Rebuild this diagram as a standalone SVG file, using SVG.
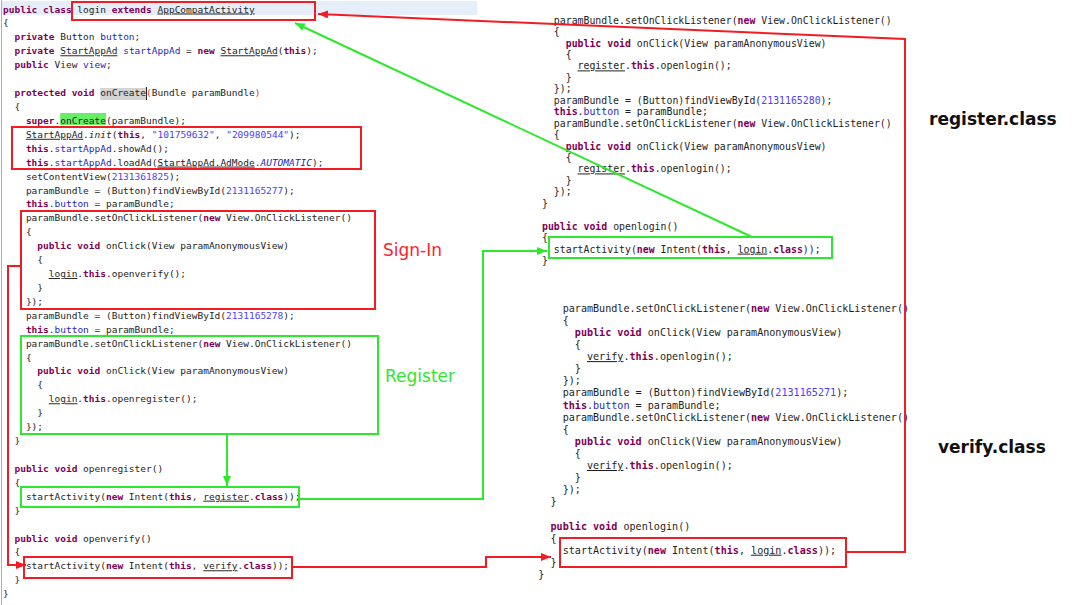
<svg xmlns="http://www.w3.org/2000/svg" width="1080" height="605" viewBox="0 0 1080 605">
<style>
.code{font-family:"DejaVu Sans Mono","Liberation Mono",monospace;fill:#1e1e1e}
.l{font-size:9.5px}
.r1{font-size:9.85px}
.r2{font-size:10.1px}
.k{fill:#7f0055;font-weight:bold}
.f{fill:#1f1fc0}
.n{fill:#4b3cff}
.u{text-decoration:underline}
.i{font-style:italic}
.p{fill:#e03030}
.red{fill:none;stroke:#f21d24;stroke-width:2}
.grn{fill:none;stroke:#2ee82e;stroke-width:2}
.lblr{font-family:"DejaVu Sans",sans-serif;font-size:17px;fill:#ff2030}
.lblg{font-family:"DejaVu Sans",sans-serif;font-size:17px;fill:#2ee82e}
.title{font-family:"DejaVu Sans",sans-serif;font-size:17px;font-weight:bold;fill:#111}
</style>
<defs>
<marker id="ar" markerUnits="userSpaceOnUse" markerWidth="10" markerHeight="8" refX="10" refY="4" orient="auto"><path d="M0,0 L10,4 L0,8 z" fill="#f21d24"/></marker>
<marker id="ag" markerUnits="userSpaceOnUse" markerWidth="10" markerHeight="8" refX="10" refY="4" orient="auto"><path d="M0,0 L10,4 L0,8 z" fill="#2ee82e"/></marker>
</defs>
<rect x="0" y="0" width="1080" height="605" fill="#ffffff"/>

<g id="login-code">
<line x1="1.5" y1="0" x2="1.5" y2="605" stroke="#b0b0b0" stroke-width="1"/>
<rect x="2" y="1" width="475" height="14" fill="#e6eefa"/>
<rect x="100.2" y="88" width="45.8" height="12" fill="#d4d4d4"/>
<line x1="146.5" y1="87" x2="146.5" y2="100" stroke="#222" stroke-width="1"/>
<rect x="60.2" y="113" width="45.8" height="12" fill="#66ee66"/>
<g class="code l">
<text x="3" y="12.5"><tspan class="k">public class</tspan> login <tspan class="k">extends</tspan> <tspan class="u">AppCompatActivity</tspan></text>
<text x="3" y="26.4">{</text>
<text x="14.44" y="40.3"><tspan class="k">private</tspan> Button <tspan class="f">button</tspan>;</text>
<text x="14.44" y="54.3"><tspan class="k">private</tspan> <tspan class="u">StartAppAd</tspan> <tspan class="f">startAppAd</tspan> = <tspan class="k">new</tspan> <tspan class="u">StartAppAd</tspan>(<tspan class="k">this</tspan>);</text>
<text x="14.44" y="68.2"><tspan class="k">public</tspan> View <tspan class="f">view</tspan>;</text>
<text x="14.44" y="96"><tspan class="k">protected void</tspan> onCreate<tspan class="p">(</tspan>Bundle paramBundle<tspan class="p">)</tspan></text>
<text x="14.44" y="109.9">{</text>
<text x="25.88" y="123.9"><tspan class="k">super</tspan>.onCreate(paramBundle);</text>
<text x="25.88" y="137.8"><tspan class="u">StartAppAd</tspan>.<tspan class="i">init</tspan>(<tspan class="k">this</tspan>, <tspan class="n">"101759632"</tspan>, <tspan class="n">"209980544"</tspan>);</text>
<text x="25.88" y="151.7"><tspan class="k">this</tspan>.<tspan class="f">startAppAd</tspan>.showAd();</text>
<text x="25.88" y="165.6"><tspan class="k">this</tspan>.<tspan class="f">startAppAd</tspan>.loadAd(<tspan class="u">StartAppAd.AdMode</tspan>.<tspan class="f i">AUTOMATIC</tspan>);</text>
<text x="25.88" y="179.5">setContentView(<tspan class="n">2131361825</tspan>);</text>
<text x="25.88" y="193.5">paramBundle = (Button)findViewById(<tspan class="n">2131165277</tspan>);</text>
<text x="25.88" y="207.4"><tspan class="k">this</tspan>.<tspan class="f">button</tspan> = paramBundle;</text>
<text x="25.88" y="221.3">paramBundle.setOnClickListener(<tspan class="k">new</tspan> View.OnClickListener()</text>
<text x="25.88" y="235.2">{</text>
<text x="37.32" y="249.1"><tspan class="k">public void</tspan> onClick(View paramAnonymousView)</text>
<text x="37.32" y="263.1">{</text>
<text x="48.76" y="277"><tspan class="u">login</tspan>.<tspan class="k">this</tspan>.openverify();</text>
<text x="37.32" y="290.9">}</text>
<text x="25.88" y="304.8">});</text>
<text x="25.88" y="318.7">paramBundle = (Button)findViewById(<tspan class="n">2131165278</tspan>);</text>
<text x="25.88" y="332.7"><tspan class="k">this</tspan>.<tspan class="f">button</tspan> = paramBundle;</text>
<text x="25.88" y="346.6">paramBundle.setOnClickListener(<tspan class="k">new</tspan> View.OnClickListener()</text>
<text x="25.88" y="360.5">{</text>
<text x="37.32" y="374.4"><tspan class="k">public void</tspan> onClick(View paramAnonymousView)</text>
<text x="37.32" y="388.3">{</text>
<text x="48.76" y="402.3"><tspan class="u">login</tspan>.<tspan class="k">this</tspan>.openregister();</text>
<text x="37.32" y="416.2">}</text>
<text x="25.88" y="430.1">});</text>
<text x="14.44" y="444">}</text>
<text x="14.44" y="471.9"><tspan class="k">public void</tspan> openregister()</text>
<text x="14.44" y="485.8">{</text>
<text x="25.88" y="499.7">startActivity(<tspan class="k">new</tspan> Intent(<tspan class="k">this</tspan>, <tspan class="u">register</tspan>.<tspan class="k">class</tspan>));</text>
<text x="14.44" y="513.6">}</text>
<text x="14.44" y="541.5"><tspan class="k">public void</tspan> openverify()</text>
<text x="14.44" y="555.4">{</text>
<text x="25.88" y="569.3">startActivity(<tspan class="k">new</tspan> Intent(<tspan class="k">this</tspan>, <tspan class="u">verify</tspan>.<tspan class="k">class</tspan>));</text>
<text x="14.44" y="583.2">}</text>
<text x="3" y="597.1">}</text>
</g>
</g>

<g id="register-code" class="code r1">
<text x="553.86" y="23.6">paramBundle.setOnClickListener(<tspan class="k">new</tspan> View.OnClickListener()</text>
<text x="553.86" y="35.05">{</text>
<text x="565.72" y="46.5"><tspan class="k">public void</tspan> onClick(View paramAnonymousView)</text>
<text x="565.72" y="57.95">{</text>
<text x="577.58" y="69.4"><tspan class="u">register</tspan>.<tspan class="k">this</tspan>.openlogin();</text>
<text x="565.72" y="80.85">}</text>
<text x="553.86" y="92.3">});</text>
<text x="553.86" y="103.75">paramBundle = (Button)findViewById(<tspan class="n">2131165280</tspan>);</text>
<text x="553.86" y="115.2"><tspan class="k">this</tspan>.<tspan class="f">button</tspan> = paramBundle;</text>
<text x="553.86" y="126.65">paramBundle.setOnClickListener(<tspan class="k">new</tspan> View.OnClickListener()</text>
<text x="553.86" y="138.1">{</text>
<text x="565.72" y="149.55"><tspan class="k">public void</tspan> onClick(View paramAnonymousView)</text>
<text x="565.72" y="161">{</text>
<text x="577.58" y="172.45"><tspan class="u">register</tspan>.<tspan class="k">this</tspan>.openlogin();</text>
<text x="565.72" y="183.9">}</text>
<text x="553.86" y="195.35">});</text>
<text x="542" y="206.8">}</text>
<text x="542" y="229.7"><tspan class="k">public void</tspan> openlogin()</text>
<text x="542" y="241.15">{</text>
<text x="553.86" y="252.6">startActivity(<tspan class="k">new</tspan> Intent(<tspan class="k">this</tspan>, <tspan class="u">login</tspan>.<tspan class="k">class</tspan>));</text>
<text x="542" y="264.05">}</text>
</g>

<g id="verify-code" class="code r2">
<text x="562.66" y="311.7">paramBundle.setOnClickListener(<tspan class="k">new</tspan> View.OnClickListener()</text>
<text x="562.66" y="323.8">{</text>
<text x="574.82" y="335.9"><tspan class="k">public void</tspan> onClick(View paramAnonymousView)</text>
<text x="574.82" y="348">{</text>
<text x="586.98" y="360.1"><tspan class="u">verify</tspan>.<tspan class="k">this</tspan>.openlogin();</text>
<text x="574.82" y="372.2">}</text>
<text x="562.66" y="384.3">});</text>
<text x="562.66" y="396.4">paramBundle = (Button)findViewById(<tspan class="n">2131165271</tspan>);</text>
<text x="562.66" y="408.5"><tspan class="k">this</tspan>.<tspan class="f">button</tspan> = paramBundle;</text>
<text x="562.66" y="420.6">paramBundle.setOnClickListener(<tspan class="k">new</tspan> View.OnClickListener()</text>
<text x="562.66" y="432.7">{</text>
<text x="574.82" y="444.8"><tspan class="k">public void</tspan> onClick(View paramAnonymousView)</text>
<text x="574.82" y="456.9">{</text>
<text x="586.98" y="469"><tspan class="u">verify</tspan>.<tspan class="k">this</tspan>.openlogin();</text>
<text x="574.82" y="481.1">}</text>
<text x="562.66" y="493.2">});</text>
<text x="550.5" y="505.3">}</text>
<text x="550.5" y="529.5"><tspan class="k">public void</tspan> openlogin()</text>
<text x="550.5" y="541.6">{</text>
<text x="562.66" y="553.7">startActivity(<tspan class="k">new</tspan> Intent(<tspan class="k">this</tspan>, <tspan class="u">login</tspan>.<tspan class="k">class</tspan>));</text>
<text x="550.5" y="565.8">}</text>
<text x="538.34" y="577.9">}</text>
</g>

<g id="box-login-class"><rect class="red" x="72" y="2" width="243" height="18"/></g>
<g id="box-startappad"><rect class="red" x="12" y="127" width="349" height="42"/></g>
<g id="box-signin"><rect class="red" x="21" y="211" width="354" height="98"/><text class="lblr" x="383" y="256">Sign-In</text></g>
<g id="box-register"><rect class="grn" x="21" y="336" width="357" height="98"/><text class="lblg" x="385" y="382">Register</text></g>
<g id="box-openregister"><rect class="grn" x="21" y="487" width="278" height="20"/></g>
<g id="box-openverify"><rect class="red" x="24" y="557" width="268" height="21"/></g>
<g id="box-register-openlogin"><rect class="grn" x="549" y="237" width="283" height="21"/></g>
<g id="box-verify-openlogin"><rect class="red" x="560" y="538" width="286" height="29"/></g>
<g id="label-register-class"><text class="title" x="929" y="125">register.class</text></g>
<g id="label-verify-class"><text class="title" x="938" y="453">verify.class</text></g>

<g id="connectors">
<path class="red" d="M846,552 H905 V39 L318,14" marker-end="url(#ar)"/>
<path class="grn" d="M752,237 L295,23" marker-end="url(#ag)"/>
<path class="grn" d="M227,434 V486" marker-end="url(#ag)"/>
<path class="grn" d="M299,499 H483 V251 H547" marker-end="url(#ag)"/>
<path class="red" d="M21,266 H8 V565 H26" marker-end="url(#ar)"/>
<path class="red" d="M292,567 H486 V557 H551" marker-end="url(#ar)"/>
</g>
</svg>
